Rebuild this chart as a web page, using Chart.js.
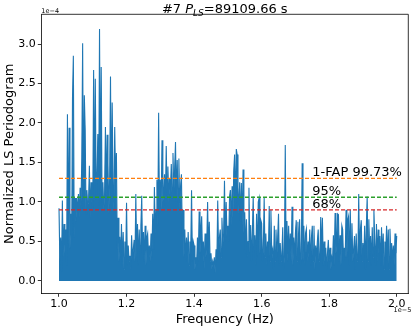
<!DOCTYPE html>
<html>
<head>
<meta charset="utf-8">
<script src="https://cdn.jsdelivr.net/npm/chart.js@4.4.1/dist/chart.umd.min.js"></script>
<style>
  html, body { margin: 0; padding: 0; background: #fff; }
  #wrap { width: 415px; height: 328px; }
</style>
</head>
<body>
<div id="wrap"><canvas id="ls-chart" width="415" height="328"></canvas></div>
<script>
// frequency in units of 1e-5 Hz, periodogram power in units of 1e-4
const freqStart = 1.0;
const freqStep = 0.0025;

// 20 samples per 0.05e-5 Hz
const power = [
    0.92, 0.25, 0.55, 0.12, 1.02, 0.30, 0.72, 0.35, 0.65, 0.20, 2.11, 0.45, 1.94, 0.40, 0.85, 0.50, 2.32, 2.85, 0.55, 1.05,
    0.75, 1.05, 0.85, 1.10, 0.80, 1.18, 0.95, 1.55, 3.01, 0.90, 2.35, 1.91, 0.85, 1.15, 0.95, 1.00, 1.46, 0.80, 1.25, 1.00,
    0.90, 2.67, 1.00, 2.56, 1.10, 1.30, 1.86, 0.95, 3.19, 1.15, 2.71, 1.00, 1.25, 0.90, 1.10, 1.95, 1.05, 1.85, 1.49, 0.85,
    1.30, 2.59, 0.95, 2.26, 1.20, 0.90, 1.95, 1.25, 1.62, 0.40, 0.80, 0.25, 0.56, 0.30, 0.72, 0.20, 0.62, 0.15, 0.50, 0.25,
    0.99, 0.20, 0.45, 0.25, 0.32, 0.15, 0.58, 0.30, 0.40, 0.52, 0.25, 1.10, 0.30, 0.72, 0.20, 0.65, 0.35, 0.70, 1.08, 0.30,
    0.62, 0.25, 0.70, 0.20, 0.55, 0.60, 0.30, 0.45, 0.25, 0.60, 0.30, 0.85, 0.40, 1.19, 0.60, 0.90, 1.28, 0.70, 2.13, 0.85,
    1.28, 0.90, 1.78, 1.00, 1.10, 1.35, 0.95, 1.71, 1.10, 1.45, 1.00, 1.30, 1.15, 1.48, 1.05, 1.62, 1.10, 1.43, 1.76, 1.00,
    1.53, 1.00, 1.55, 0.90, 1.20, 1.35, 0.60, 0.90, 0.30, 0.65, 0.25, 0.55, 0.30, 0.62, 0.20, 0.50, 0.35, 1.15, 0.25, 0.50,
    0.45, 0.15, 0.30, 0.20, 0.55, 0.25, 0.88, 0.35, 0.65, 0.82, 0.30, 0.50, 0.15, 0.60, 0.30, 0.45, 1.00, 0.35, 0.75, 0.25,
    0.35, 0.15, 0.25, 0.20, 0.30, 0.10, 0.40, 0.25, 1.02, 0.35, 0.55, 0.65, 0.30, 0.80, 0.45, 0.60, 1.27, 0.50, 1.00, 0.55,
    0.70, 0.50, 1.07, 1.15, 0.70, 1.20, 0.80, 1.40, 1.60, 0.90, 1.67, 1.60, 1.20, 0.85, 1.25, 0.75, 1.24, 0.70, 1.41, 0.60,
    0.87, 0.35, 0.78, 0.30, 0.50, 1.18, 0.35, 0.71, 0.25, 0.60, 1.07, 0.40, 0.58, 0.20, 0.85, 0.30, 1.00, 1.05, 0.35, 0.77,
    0.73, 0.25, 0.40, 1.05, 0.30, 0.60, 0.20, 0.50, 0.30, 0.95, 0.25, 0.90, 0.35, 0.40, 0.15, 0.70, 0.25, 0.65, 0.30, 0.55,
    0.85, 0.20, 0.48, 0.25, 0.35, 0.68, 0.15, 0.30, 1.72, 0.35, 0.76, 0.25, 0.70, 0.30, 0.60, 0.25, 0.94, 0.20, 0.55, 0.30,
    0.60, 0.77, 0.25, 0.75, 0.30, 0.78, 0.20, 0.30, 1.49, 0.25, 0.70, 0.20, 0.60, 0.66, 0.25, 0.50, 0.30, 0.65, 0.20, 0.55,
    0.70, 0.25, 0.70, 0.15, 0.45, 0.30, 0.50, 0.65, 0.25, 0.30, 0.81, 0.35, 0.80, 0.20, 0.50, 0.25, 0.42, 0.15, 0.35, 0.52,
    0.25, 0.42, 0.15, 0.30, 0.25, 0.58, 0.20, 0.86, 0.35, 0.50, 0.85, 0.84, 0.25, 0.58, 0.20, 0.70, 0.65, 0.25, 0.42, 0.30,
    0.90, 0.30, 0.77, 0.82, 0.20, 0.90, 0.35, 0.73, 0.25, 0.40, 0.57, 0.15, 0.60, 0.25, 0.30, 1.10, 0.30, 0.65, 0.77, 0.25,
    0.48, 0.25, 0.70, 0.15, 0.68, 1.07, 0.25, 0.78, 0.35, 0.57, 0.20, 0.68, 0.30, 0.90, 0.48, 0.20, 0.72, 0.25, 0.65, 0.35,
    0.57, 0.20, 0.68, 0.30, 0.60, 0.15, 0.50, 0.35, 0.70, 0.25, 0.65, 0.15, 0.66, 0.30, 0.48, 0.25, 0.45, 0.20, 0.60, 0.35,
    0.57
];

// false alarm probability levels
const fapLevels = [1.30, 1.06, 0.90];
const fapLabels = ['1-FAP 99.73%', '95%', '68%'];
const fapFreqRange = [1.0, 2.0];
const fapLabelFreq = 1.75;

const xTicks = [1.0, 1.2, 1.4, 1.6, 1.8, 2.0];
const yTicks = [0.0, 0.5, 1.0, 1.5, 2.0, 2.5, 3.0];
const periodText = '89109.66';

const fapColors = ['#ff7f0e', '#2ca02c', '#d62728'];
const FONT = '"DejaVu Sans", sans-serif';

Chart.defaults.font.family = FONT;
Chart.defaults.color = '#000';

const lsData = power.map((p, i) => ({ x: freqStart + i * freqStep, y: p }));

const fapDatasets = fapLevels.map((level, i) => ({
    label: fapLabels[i],
    data: fapFreqRange.map(f => ({ x: f, y: level })),
    borderColor: fapColors[i],
    borderWidth: 1.3,
    borderDash: [4, 2],
    pointRadius: 0,
    order: 1
}));

const decorations = {
    id: 'decorations',
    afterDraw(chart) {
        const ctx = chart.ctx;
        const area = chart.chartArea;
        const xs = chart.scales.x;
        const ys = chart.scales.y;
        ctx.save();

        // top and right spines
        ctx.strokeStyle = '#000';
        ctx.lineWidth = 0.8;
        ctx.beginPath();
        ctx.moveTo(area.left, area.top);
        ctx.lineTo(area.right, area.top);
        ctx.lineTo(area.right, area.bottom);
        ctx.stroke();

        ctx.fillStyle = '#000';

        // title with P_LS
        const parts = [
            { text: '#7 ', font: '13px ' + FONT, dy: 0 },
            { text: 'P', font: 'italic 13px ' + FONT, dy: 0 },
            { text: 'LS', font: 'italic 9px ' + FONT, dy: 2.5 },
            { text: '=' + periodText + ' s', font: '13px ' + FONT, dy: 0 }
        ];
        let total = 0;
        parts.forEach(p => { ctx.font = p.font; p.w = ctx.measureText(p.text).width; total += p.w; });
        let tx = (area.left + area.right) / 2 - total / 2;
        ctx.textAlign = 'left';
        ctx.textBaseline = 'alphabetic';
        parts.forEach(p => {
            ctx.font = p.font;
            ctx.fillText(p.text, tx, 13.3 + p.dy);
            tx += p.w;
        });

        // offset texts
        ctx.font = '6.5px ' + FONT;
        ctx.fillText('1e\u22124', area.left, area.top - 1.5);
        ctx.textAlign = 'right';
        ctx.fillText('1e\u22125', area.right + 3, 312);

        // axis titles
        ctx.font = '13px ' + FONT;
        ctx.textAlign = 'center';
        ctx.fillText('Frequency (Hz)', (area.left + area.right) / 2, 322.5);
        ctx.save();
        ctx.translate(13, (area.top + area.bottom) / 2);
        ctx.rotate(-Math.PI / 2);
        ctx.fillText('Normalized LS Periodogram', 0, 0);
        ctx.restore();

        // FAP labels
        ctx.textAlign = 'left';
        ctx.textBaseline = 'bottom';
        fapLevels.forEach((level, i) => {
            ctx.fillText(fapLabels[i], xs.getPixelForValue(fapLabelFreq), ys.getPixelForValue(level) + 1);
        });

        ctx.restore();
    }
};

new Chart(document.getElementById('ls-chart').getContext('2d'), {
    type: 'line',
    data: {
        datasets: [
            ...fapDatasets,
            {
                label: 'LS',
                data: lsData,
                borderColor: '#1f77b4',
                backgroundColor: '#1f77b4',
                fill: 'origin',
                borderWidth: 1.1,
                pointRadius: 0,
                tension: 0,
                order: 2
            }
        ]
    },
    options: {
        responsive: false,
        animation: false,
        devicePixelRatio: 1,
        events: [],
        layout: { padding: { top: 14.3, right: 6.7, left: 0, bottom: 0 } },
        plugins: {
            legend: { display: false },
            tooltip: { enabled: false },
            title: { display: false }
        },
        scales: {
            x: {
                type: 'linear',
                min: 0.9476,
                max: 2.0343,
                afterBuildTicks: s => { s.ticks = xTicks.map(v => ({ value: v })); },
                afterFit: s => { s.height = 34.7; },
                grid: { display: true, drawOnChartArea: false, drawTicks: true, tickLength: 3.5, tickColor: '#000', tickWidth: 0.8 },
                border: { display: true, color: '#000', width: 0.8 },
                ticks: { color: '#000', font: { size: 11 }, padding: 1, maxRotation: 0, autoSkip: false, callback: v => v.toFixed(1) }
            },
            y: {
                type: 'linear',
                min: -0.156,
                max: 3.376,
                afterBuildTicks: s => { s.ticks = yTicks.map(v => ({ value: v })); },
                afterFit: s => { s.width = 41.3; },
                grid: { display: true, drawOnChartArea: false, drawTicks: true, tickLength: 3.5, tickColor: '#000', tickWidth: 0.8 },
                border: { display: true, color: '#000', width: 0.8 },
                ticks: { color: '#000', font: { size: 11 }, padding: 2, callback: v => v.toFixed(1) }
            }
        }
    },
    plugins: [decorations]
});
</script>
</body>
</html>
